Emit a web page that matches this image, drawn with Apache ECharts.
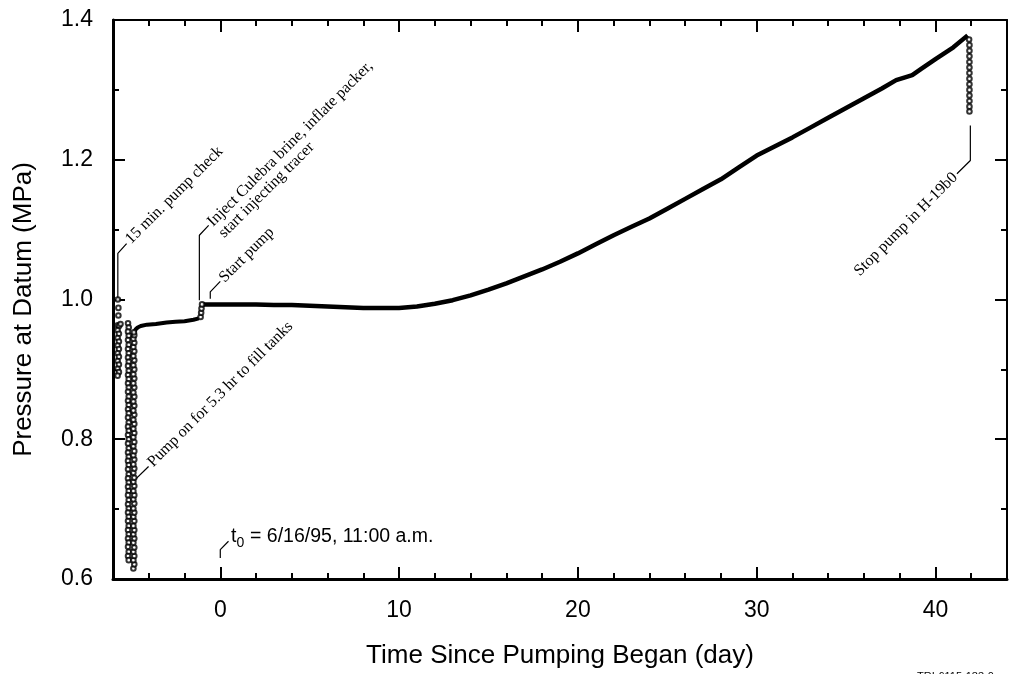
<!DOCTYPE html>
<html><head><meta charset="utf-8">
<script src="https://cdn.jsdelivr.net/npm/echarts@6/dist/echarts.min.js"></script>
<style>html,body{margin:0;padding:0;background:#fff}#c{width:1009px;height:674px}</style>
</head><body><div id="c"></div>
<script>
// ---- tick values ----
const xMajorTicks = [0, 10, 20, 30, 40];
const xMinorTicks = [-4, -2, 2, 4, 6, 8, 12, 14, 16, 18, 22, 24, 26, 28, 32, 34, 36, 38, 42];
const yMajorTicks = [0.6, 0.8, 1.0, 1.2, 1.4];
const yMinorTicks = [0.7, 0.9, 1.1, 1.3];

// ---- data (day, MPa) ----
const pumpCheck = [[-5.73,1.000],[-5.70,0.988],[-5.70,0.977],[-5.74,0.963],[-5.66,0.962],[-5.58,0.965],
 [-5.74,0.956],[-5.67,0.951],[-5.74,0.945],[-5.67,0.940],[-5.74,0.934],[-5.67,0.929],[-5.74,0.923],
 [-5.67,0.918],[-5.74,0.912],[-5.67,0.907],[-5.74,0.901],[-5.67,0.896],[-5.74,0.891]];
const drawdown = [[-5.16,0.966],[-5.12,0.960],[-5.16,0.954],[-5.12,0.948],[-5.16,0.942],[-5.12,0.935],
 [-5.16,0.929],[-5.12,0.923],[-5.16,0.917],[-5.12,0.911],[-5.16,0.905],[-5.12,0.898],[-5.16,0.892],
 [-5.12,0.886],[-5.16,0.880],[-5.12,0.874],[-5.16,0.868],[-5.12,0.861],[-5.16,0.855],[-5.12,0.849],
 [-5.16,0.843],[-5.12,0.837],[-5.16,0.831],[-5.12,0.824],[-5.16,0.818],[-5.12,0.812],[-5.16,0.806],
 [-5.12,0.800],[-5.16,0.794],[-5.12,0.787],[-5.16,0.781],[-5.12,0.775],[-5.16,0.769],[-5.12,0.763],
 [-5.16,0.757],[-5.12,0.750],[-5.16,0.744],[-5.12,0.738],[-5.16,0.732],[-5.12,0.726],[-5.16,0.720],
 [-5.12,0.713],[-5.16,0.707],[-5.12,0.701],[-5.16,0.695],[-5.12,0.689],[-5.16,0.683],[-5.12,0.676],
 [-5.16,0.670],[-5.12,0.664],[-5.16,0.658],[-5.12,0.652],[-5.16,0.646],[-5.12,0.639],[-5.16,0.633],[-5.12,0.627]];
const recovery = [[-4.86,0.615],[-4.81,0.621],[-4.86,0.627],[-4.81,0.633],[-4.86,0.639],[-4.81,0.645],
 [-4.86,0.652],[-4.81,0.658],[-4.86,0.664],[-4.81,0.670],[-4.86,0.676],[-4.81,0.683],[-4.86,0.689],
 [-4.81,0.695],[-4.86,0.701],[-4.81,0.708],[-4.86,0.714],[-4.81,0.720],[-4.86,0.726],[-4.81,0.733],
 [-4.86,0.739],[-4.81,0.745],[-4.86,0.752],[-4.81,0.758],[-4.86,0.764],[-4.81,0.771],[-4.86,0.777],
 [-4.81,0.783],[-4.86,0.790],[-4.81,0.796],[-4.86,0.803],[-4.81,0.809],[-4.86,0.815],[-4.81,0.822],
 [-4.86,0.828],[-4.81,0.835],[-4.86,0.841],[-4.81,0.848],[-4.86,0.854],[-4.81,0.861],[-4.86,0.867],
 [-4.81,0.874],[-4.86,0.880],[-4.81,0.887],[-4.86,0.893],[-4.81,0.900],[-4.86,0.906],[-4.81,0.913],
 [-4.86,0.919],[-4.81,0.926],[-4.86,0.932],[-4.81,0.938],[-4.86,0.944],[-4.81,0.949],[-4.83,0.953]];
const recoveryCurve = [[-4.80,0.953],[-4.74,0.957],[-4.62,0.960],[-4.45,0.962],[-4.1,0.964],[-3.6,0.965],
 [-3.0,0.967],[-2.5,0.968],[-2.0,0.969],[-1.5,0.971],[-1.2,0.973]];
const injectStep = [[-1.10,0.975],[-1.07,0.981],[-1.05,0.987],[-1.02,0.993]];
const mainCurve = [[-1.0,0.993],[0,0.993],[1,0.993],[2,0.993],[3,0.992],[4,0.992],[5,0.991],[6,0.990],
 [7,0.989],[8,0.988],[9,0.988],[10,0.988],[11,0.990],[12,0.994],[13,0.999],[14,1.006],[15,1.014],
 [16,1.023],[17,1.033],[18,1.043],[19,1.054],[20,1.066],[21,1.079],[22,1.092],[23,1.104],[24,1.116],
 [25,1.130],[26,1.144],[27,1.158],[28,1.172],[29,1.189],[30,1.206],[31,1.219],[32,1.232],[33,1.246],
 [34,1.260],[35,1.274],[36,1.288],[37,1.302],[37.8,1.314],[38.3,1.318],[38.7,1.321],[39.2,1.330],
 [40,1.344],[41,1.361],[41.8,1.378]];
const stopPump = [[41.88,1.372],[41.9,1.364],[41.9,1.356],[41.9,1.348],[41.9,1.340],[41.9,1.332],
 [41.9,1.324],[41.9,1.316],[41.9,1.308],[41.9,1.300],[41.9,1.292],[41.9,1.284],[41.9,1.276],[41.9,1.269]];

// ---- annotations (data coords) ----
const leaders = [
 [[-5.73,1.001],[-5.73,1.066],[-5.24,1.080]],
 [[-1.17,0.999],[-1.17,1.092],[-0.65,1.106]],
 [[-0.56,1.001],[-0.56,1.011],[0.0,1.026]],
 [[-4.85,0.740],[-4.01,0.761]],
 [[41.95,1.249],[41.95,1.199],[41.2,1.180]],
 [[0,0.630],[0,0.642],[0.46,0.654]]
];
const notes = [
 {text:'15 min. pump check', at:[-5.16,1.083], align:'left'},
 {text:'Inject Culebra brine, inflate packer,', at:[-0.57,1.108], align:'left'},
 {text:'Start pump', at:[0.08,1.028], align:'left'},
 {text:'Pump on for 5.3 hr to fill tanks', at:[-3.92,0.764], align:'left'},
 {text:'Stop pump in H-19b0', at:[41.1,1.178], align:'right'}
];
const note2 = 'start injecting tracer';
const t0Note = {sym:'t', sub:'0', rest:' = 6/16/95, 11:00 a.m.', at:[0.6,0.647]};

const SANS = 'Liberation Sans, Arial, Helvetica, sans-serif';
const SERIF = 'Liberation Serif, Times New Roman, serif';
const chart = echarts.init(document.getElementById('c'), null, {renderer:'canvas'});

function xAx(pos, major, extra){
  return Object.assign({type:'value', min:-6, max:44, position:pos, splitLine:{show:false},
    axisLine:{show:false, onZero:false},
    axisTick:{customValues: major ? xMajorTicks : xMinorTicks, inside:true, length: major?12:6, lineStyle:{color:'#000', width:2}},
    axisLabel:{show:false}}, extra||{});
}
function yAx(pos, major, extra){
  return Object.assign({type:'value', min:0.6, max:1.4, position:pos, splitLine:{show:false},
    axisLine:{show:false, onZero:false},
    axisTick:{customValues: major ? yMajorTicks : yMinorTicks, inside:true, length: major?12:6, lineStyle:{color:'#000', width:2}},
    axisLabel:{show:false}}, extra||{});
}
const scat = (data) => ({type:'scatter', data, symbol:'emptyCircle', symbolSize:4.6,
  itemStyle:{color:'#000', borderColor:'#000', borderWidth:1.2}, silent:true, z:3});
const series = [
  scat(pumpCheck), scat(drawdown), scat(recovery), scat(injectStep), scat(stopPump),
  {type:'line', data:recoveryCurve, showSymbol:false, lineStyle:{color:'#000', width:4}, z:2},
  {type:'line', data:mainCurve, showSymbol:false, lineStyle:{color:'#000', width:4.5}, z:2}
];
leaders.forEach(l => series.push({type:'line', data:l, showSymbol:false, lineStyle:{color:'#000', width:1.2}, z:2}));

chart.setOption({
  animation:false,
  backgroundColor:'#fff',
  grid:{left:113, top:20, right:2, bottom:93},
  xAxis:[
    xAx('bottom', true, {axisLine:{show:true, onZero:false, lineStyle:{color:'#000', width:3}},
      axisLabel:{show:true, customValues:xMajorTicks, margin:20, color:'#000', fontSize:23, fontFamily:SANS},
      name:'Time Since Pumping Began (day)', nameLocation:'middle', nameGap:64,
      nameTextStyle:{color:'#000', fontSize:26, fontFamily:SANS}}),
    xAx('bottom', false),
    xAx('top', true, {axisLine:{show:true, onZero:false, lineStyle:{color:'#000', width:2}}}),
    xAx('top', false)
  ],
  yAxis:[
    yAx('left', true, {axisLine:{show:true, onZero:false, lineStyle:{color:'#000', width:3}},
      axisLabel:{show:true, customValues:yMajorTicks, margin:20, color:'#000', fontSize:23, fontFamily:SANS,
        formatter:v => Number(v).toFixed(1)},
      name:'Pressure at Datum (MPa)', nameLocation:'middle', nameGap:76,
      nameTextStyle:{color:'#000', fontSize:26, fontFamily:SANS, padding:[0,20,0,0]}}),
    yAx('left', false),
    yAx('right', true, {axisLine:{show:true, onZero:false, lineStyle:{color:'#000', width:2}}}),
    yAx('right', false)
  ],
  series
});

const toPx = p => chart.convertToPixel({xAxisIndex:0, yAxisIndex:0}, p);
const g = [];
const R = Math.PI/4;
notes.forEach((n, i) => {
  const p = toPx(n.at);
  g.push({type:'text', x:p[0], y:p[1], rotation:R, silent:true,
    style:{text:n.text, font:'16px ' + SERIF, fill:'#000', align:n.align, verticalAlign:'middle'}});
  if (i === 1) {
    g.push({type:'text', x:p[0]+11.3, y:p[1]+11.3, rotation:R, silent:true,
      style:{text:note2, font:'16px ' + SERIF, fill:'#000', align:'left', verticalAlign:'middle'}});
  }
});
const tp = toPx(t0Note.at);
g.push({type:'text', x:tp[0], y:tp[1], silent:true, style:{text:t0Note.sym, font:'19.5px ' + SANS, fill:'#000', align:'left', verticalAlign:'bottom'}});
g.push({type:'text', x:tp[0]+5.6, y:tp[1]+4, silent:true, style:{text:t0Note.sub, font:'14px ' + SANS, fill:'#000', align:'left', verticalAlign:'bottom'}});
g.push({type:'text', x:tp[0]+13.6, y:tp[1], silent:true, style:{text:t0Note.rest, font:'19.5px ' + SANS, fill:'#000', align:'left', verticalAlign:'bottom'}});
g.push({type:'text', left:917, top:671, silent:true, style:{text:'TRI-6115-183-0', font:'11px ' + SANS, fill:'#000'}});
chart.setOption({graphic:g});
</script></body></html>
